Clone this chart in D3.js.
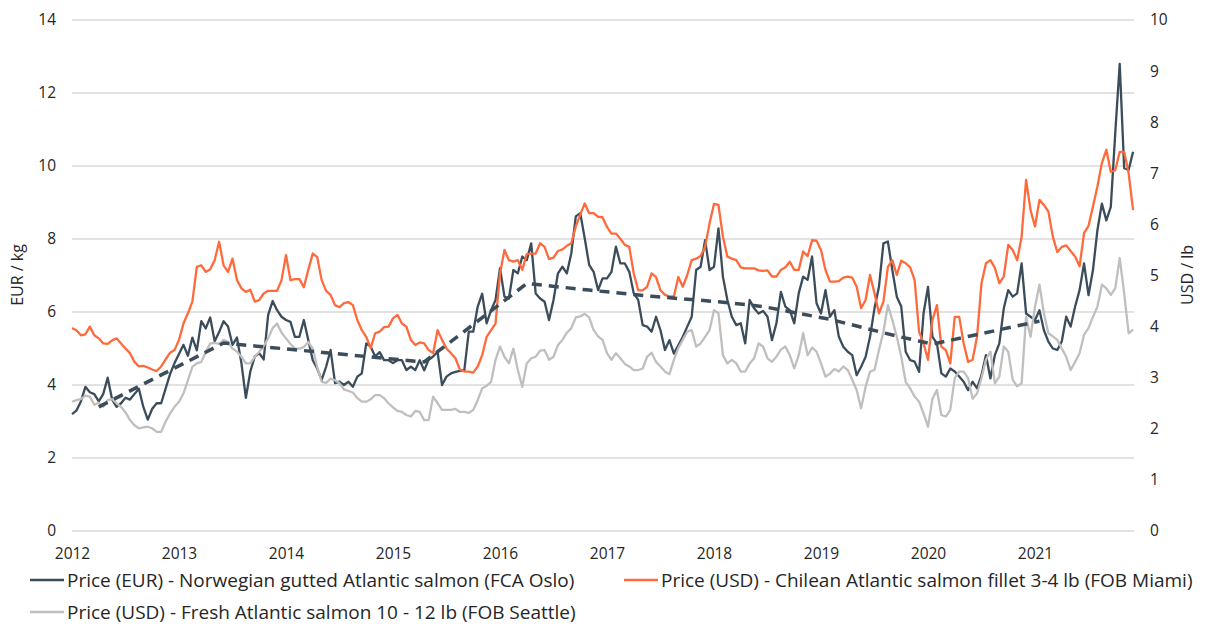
<!DOCTYPE html>
<html><head><meta charset="utf-8">
<script src="https://cdn.jsdelivr.net/npm/d3@7"></script>
<style>
html,body{margin:0;padding:0;background:#fff;}
svg text{font-family:"Open Sans","Noto Sans",sans-serif;fill:#262626;}
</style></head>
<body>
<svg id="chart" width="1215" height="625"></svg>
<script>
// ---- data: half-monthly samples starting Jan 2012 ----
const startYear = 2012;
const stepsPerYear = 24;
const yearTicks = [2012,2013,2014,2015,2016,2017,2018,2019,2020,2021];
const leftTicks = [0,2,4,6,8,10,12,14];
const rightTicks = [0,1,2,3,4,5,6,7,8,9,10];

const seriesNames = [
  "Price (EUR) - Norwegian gutted Atlantic salmon (FCA Oslo)",
  "Price (USD) - Chilean Atlantic salmon fillet 3-4 lb (FOB Miami)",
  "Price (USD) - Fresh Atlantic salmon 10 - 12 lb (FOB Seattle)"
];

const norwayEUR = [3.2,3.3,3.55,3.95,3.8,3.75,3.55,3.75,4.2,3.6,3.4,3.5,3.65,3.6,3.75,3.9,3.4,3.05,3.35,3.5,
3.5,3.9,4.3,4.6,4.85,5.1,4.8,5.3,4.95,5.75,5.55,5.85,5.2,5.45,5.75,5.6,5.1,5.3,4.6,3.65,
4.37,4.78,4.87,4.7,5.92,6.3,6.05,5.87,5.78,5.73,5.32,5.32,5.78,5.23,4.68,4.45,4.14,4.5,4.96,4.05,
4.09,4.0,4.09,3.95,4.23,4.32,5.14,5.05,4.78,4.9,4.68,4.68,4.6,4.68,4.68,4.41,4.5,4.41,4.68,4.4,
4.69,4.78,4.91,4.0,4.23,4.32,4.36,4.39,4.41,5.46,5.46,6.15,6.5,5.69,6.05,6.33,7.2,6.42,6.37,7.15,
7.06,7.52,7.42,7.88,6.51,6.37,6.28,5.78,6.33,7.06,7.24,7.06,7.61,8.62,8.71,8.02,7.29,7.1,6.6,6.92,
6.92,7.1,7.79,7.33,7.33,7.1,6.51,6.33,5.64,5.6,5.46,5.87,5.5,4.96,5.23,4.86,5.09,5.32,5.6,5.87,
7.15,7.24,7.97,7.15,7.24,8.29,6.97,6.33,5.87,5.64,5.69,5.14,6.33,6.1,5.96,6.03,5.87,5.23,5.69,6.55,
6.15,6.05,5.69,6.51,6.97,6.88,7.52,6.24,5.96,6.6,5.87,6.05,5.32,5.05,4.91,4.82,4.27,4.5,4.77,5.32,
6.1,6.69,7.88,7.93,7.15,6.42,6.15,4.91,4.68,4.64,4.36,5.96,6.69,5.32,5.14,4.32,4.23,4.45,4.37,4.23,
4.09,3.86,4.09,3.91,4.27,4.82,4.18,4.82,5.14,6.1,6.6,6.42,6.51,7.33,5.96,5.87,5.78,6.05,5.5,5.19,
5.0,4.96,5.19,5.87,5.6,6.15,6.6,7.33,6.46,7.15,8.24,8.97,8.51,8.88,10.9,12.8,9.94,9.89,10.39];

const chileUSD = [3.97,3.93,3.83,3.85,4.0,3.83,3.77,3.67,3.66,3.73,3.77,3.67,3.57,3.48,3.31,3.22,3.23,3.2,3.16,3.13,
3.22,3.36,3.49,3.54,3.74,4.06,4.26,4.49,5.17,5.2,5.07,5.12,5.3,5.66,5.2,5.07,5.33,4.91,4.75,4.68,
4.72,4.49,4.52,4.65,4.7,4.7,4.7,4.91,5.4,4.91,4.93,4.93,4.77,5.11,5.43,5.36,4.91,4.7,4.62,4.42,
4.38,4.46,4.48,4.42,4.13,3.93,3.8,3.58,3.87,3.9,3.99,4.0,4.16,4.23,4.06,4.0,3.74,3.64,3.69,3.67,
3.54,3.48,3.93,3.74,3.57,3.48,3.38,3.16,3.12,3.12,3.1,3.22,3.44,3.8,3.93,4.06,5.04,5.5,5.3,5.27,
5.3,5.11,5.42,5.43,5.43,5.63,5.56,5.32,5.35,5.48,5.51,5.58,5.63,5.96,6.19,6.41,6.22,6.22,6.15,6.14,
5.95,5.82,5.82,5.72,5.6,5.56,5.04,4.71,4.71,4.78,5.04,4.97,4.71,4.62,4.59,4.59,4.97,4.78,5.01,5.3,
5.33,5.38,5.56,6.02,6.4,6.38,5.76,5.37,5.33,5.3,5.16,5.14,5.14,5.14,5.1,5.09,5.1,4.98,4.98,5.11,
5.16,5.27,5.11,5.11,5.47,5.38,5.69,5.68,5.5,5.11,4.88,4.88,4.89,4.96,4.98,4.96,4.78,4.36,4.52,5.01,
4.65,4.26,4.49,5.17,5.3,5.01,5.29,5.24,5.16,4.91,3.9,3.67,3.35,4.13,4.42,3.61,3.54,3.28,4.19,4.19,
3.67,3.31,3.35,3.8,4.85,5.24,5.3,5.15,4.85,4.98,5.6,5.5,5.3,5.76,6.87,6.28,5.96,6.48,6.38,6.25,
5.76,5.46,5.56,5.59,5.48,5.37,5.18,5.83,5.97,6.35,6.74,7.2,7.46,7.03,7.06,7.42,7.42,7.0,6.28];

const seattleUSD = [2.53,2.56,2.58,2.65,2.63,2.47,2.51,2.43,2.56,2.58,2.5,2.43,2.32,2.17,2.07,2.01,2.03,2.04,2.01,1.94,
1.94,2.14,2.3,2.43,2.53,2.69,2.95,3.21,3.28,3.31,3.5,3.67,3.68,3.66,3.74,3.7,3.57,3.51,3.41,3.28,
3.28,3.41,3.51,3.62,3.77,3.97,4.06,3.88,3.77,3.66,3.57,3.57,3.6,3.7,3.57,3.21,2.92,2.9,2.98,2.95,
2.89,2.77,2.74,2.71,2.6,2.53,2.53,2.58,2.66,2.66,2.6,2.5,2.42,2.35,2.33,2.27,2.24,2.35,2.33,2.17,
2.17,2.63,2.5,2.37,2.37,2.37,2.39,2.33,2.33,2.31,2.37,2.56,2.79,2.84,2.92,3.35,3.61,3.41,3.28,3.57,
3.15,2.82,3.28,3.38,3.41,3.53,3.54,3.35,3.41,3.64,3.74,3.88,3.97,4.18,4.2,4.25,4.18,3.93,3.81,3.74,
3.48,3.35,3.48,3.38,3.27,3.22,3.15,3.15,3.18,3.41,3.49,3.31,3.22,3.12,3.07,3.35,3.58,3.74,3.9,3.93,
3.61,3.67,3.8,3.93,4.32,4.26,3.44,3.28,3.35,3.28,3.12,3.12,3.28,3.38,3.67,3.61,3.38,3.31,3.41,3.55,
3.61,3.44,3.18,3.44,3.87,3.44,3.59,3.51,3.28,3.02,3.08,3.17,3.12,3.22,3.15,2.96,2.76,2.4,2.82,3.12,
3.15,3.54,3.9,4.42,4.13,3.8,3.41,2.92,2.79,2.63,2.53,2.3,2.04,2.59,2.76,2.27,2.24,2.37,2.99,3.12,
3.12,2.99,2.59,2.69,2.99,3.35,3.51,2.89,3.02,3.61,3.51,2.96,2.83,2.89,4.19,3.8,4.39,4.82,4.26,3.87,
3.81,3.74,3.57,3.41,3.15,3.31,3.48,3.84,3.97,4.19,4.39,4.82,4.75,4.62,4.75,5.34,4.65,3.87,3.94];

// dashed trend (EUR): sample index and value
const trendIndex = [6,34,79,102,116,130,145,155,170,185,193,217];
const trendEUR   = [3.4,5.15,4.63,6.78,6.6,6.43,6.28,6.15,5.8,5.34,5.12,5.75];

// ---- layout ----
const svg = d3.select("#chart");
const plotL = 72, plotR = 1134, plotT = 20, plotB = 531;
const x = d3.scaleLinear().domain([2012, 2022]).range([plotL, plotL + 1070]);
const yL = d3.scaleLinear().domain([0, 14]).range([plotB, plotT]);
const yR = d3.scaleLinear().domain([0, 10]).range([plotB, plotT]);
const t = i => startYear + i / stepsPerYear;

const colDark = "#3b4c5a", colOrange = "#ff6a3c", colGrey = "#bfbfbf";

// gridlines
svg.append("g").selectAll("line").data(leftTicks).join("line")
  .attr("x1", plotL).attr("x2", plotR)
  .attr("y1", d => yL(d)).attr("y2", d => yL(d))
  .attr("stroke", "#d9d9d9").attr("stroke-width", 1.3);

// axes
const axL = svg.append("g").attr("transform", `translate(${plotL - 16},0)`)
  .call(d3.axisLeft(yL).tickValues(leftTicks).tickSize(0).tickPadding(0));
const axR = svg.append("g").attr("transform", `translate(${1150},0)`)
  .call(d3.axisRight(yR).tickValues(rightTicks).tickSize(0).tickPadding(0));
const axB = svg.append("g").attr("transform", `translate(0,${plotB + 10})`)
  .call(d3.axisBottom(x).tickValues(yearTicks).tickFormat(d3.format("d")).tickSize(0).tickPadding(4));
[axL, axR, axB].forEach(a => {
  a.select(".domain").remove();
  a.selectAll("text").attr("font-size", 15.5).attr("fill", "#262626")
    .style("font-family", '"Open Sans","Noto Sans",sans-serif');
});
axB.selectAll("text").attr("dy", "0.9em");

// axis titles
svg.append("text").attr("transform", "translate(23,275) rotate(-90)")
  .attr("text-anchor", "middle").attr("font-size", 16).text("EUR / kg");
svg.append("text").attr("transform", "translate(1193,275) rotate(-90)")
  .attr("text-anchor", "middle").attr("font-size", 16).text("USD / lb");

// lines
const lineL = d3.line().x((d, i) => x(t(i))).y(d => yL(d));
const lineR = d3.line().x((d, i) => x(t(i))).y(d => yR(d));

svg.append("path").datum(norwayEUR).attr("d", lineL)
  .attr("fill", "none").attr("stroke", colDark).attr("stroke-width", 2.3).attr("stroke-linejoin", "round");
svg.append("path").datum(seattleUSD).attr("d", lineR)
  .attr("fill", "none").attr("stroke", colGrey).attr("stroke-width", 2.3).attr("stroke-linejoin", "round");
svg.append("path").datum(chileUSD).attr("d", lineR)
  .attr("fill", "none").attr("stroke", colOrange).attr("stroke-width", 2.3).attr("stroke-linejoin", "round");

const trendPts = trendIndex.map((k, j) => [t(k), trendEUR[j]]);
svg.append("path").datum(trendPts)
  .attr("d", d3.line().x(d => x(d[0])).y(d => yL(d[1])))
  .attr("fill", "none").attr("stroke", colDark).attr("stroke-width", 3.5)
  .attr("stroke-dasharray", "10,7");

// legend
const legendItems = [
  {name: seriesNames[0], color: colDark, lx: 30, ly: 580},
  {name: seriesNames[1], color: colOrange, lx: 624, ly: 580},
  {name: seriesNames[2], color: colGrey, lx: 30, ly: 612}
];
const lg = svg.append("g");
const items = lg.selectAll("g").data(legendItems).join("g")
  .attr("transform", d => `translate(${d.lx},${d.ly})`);
items.append("line").attr("x1", 0).attr("x2", 34).attr("y1", 0).attr("y2", 0)
  .attr("stroke", d => d.color).attr("stroke-width", 2.3);
const lt = items.append("text").attr("x", 37).attr("y", 0).attr("dy", "0.36em")
  .attr("font-size", 17).text(d => d.name);
// fit legend font to the reference text widths (average of the three items)
const targetW = 531 + 546 + 517;
const measured = d3.sum(lt.nodes(), n => n.getComputedTextLength());
const fs = Math.max(14, Math.min(19, 17 * targetW / measured));
lt.attr("font-size", fs);
</script>
</body></html>
